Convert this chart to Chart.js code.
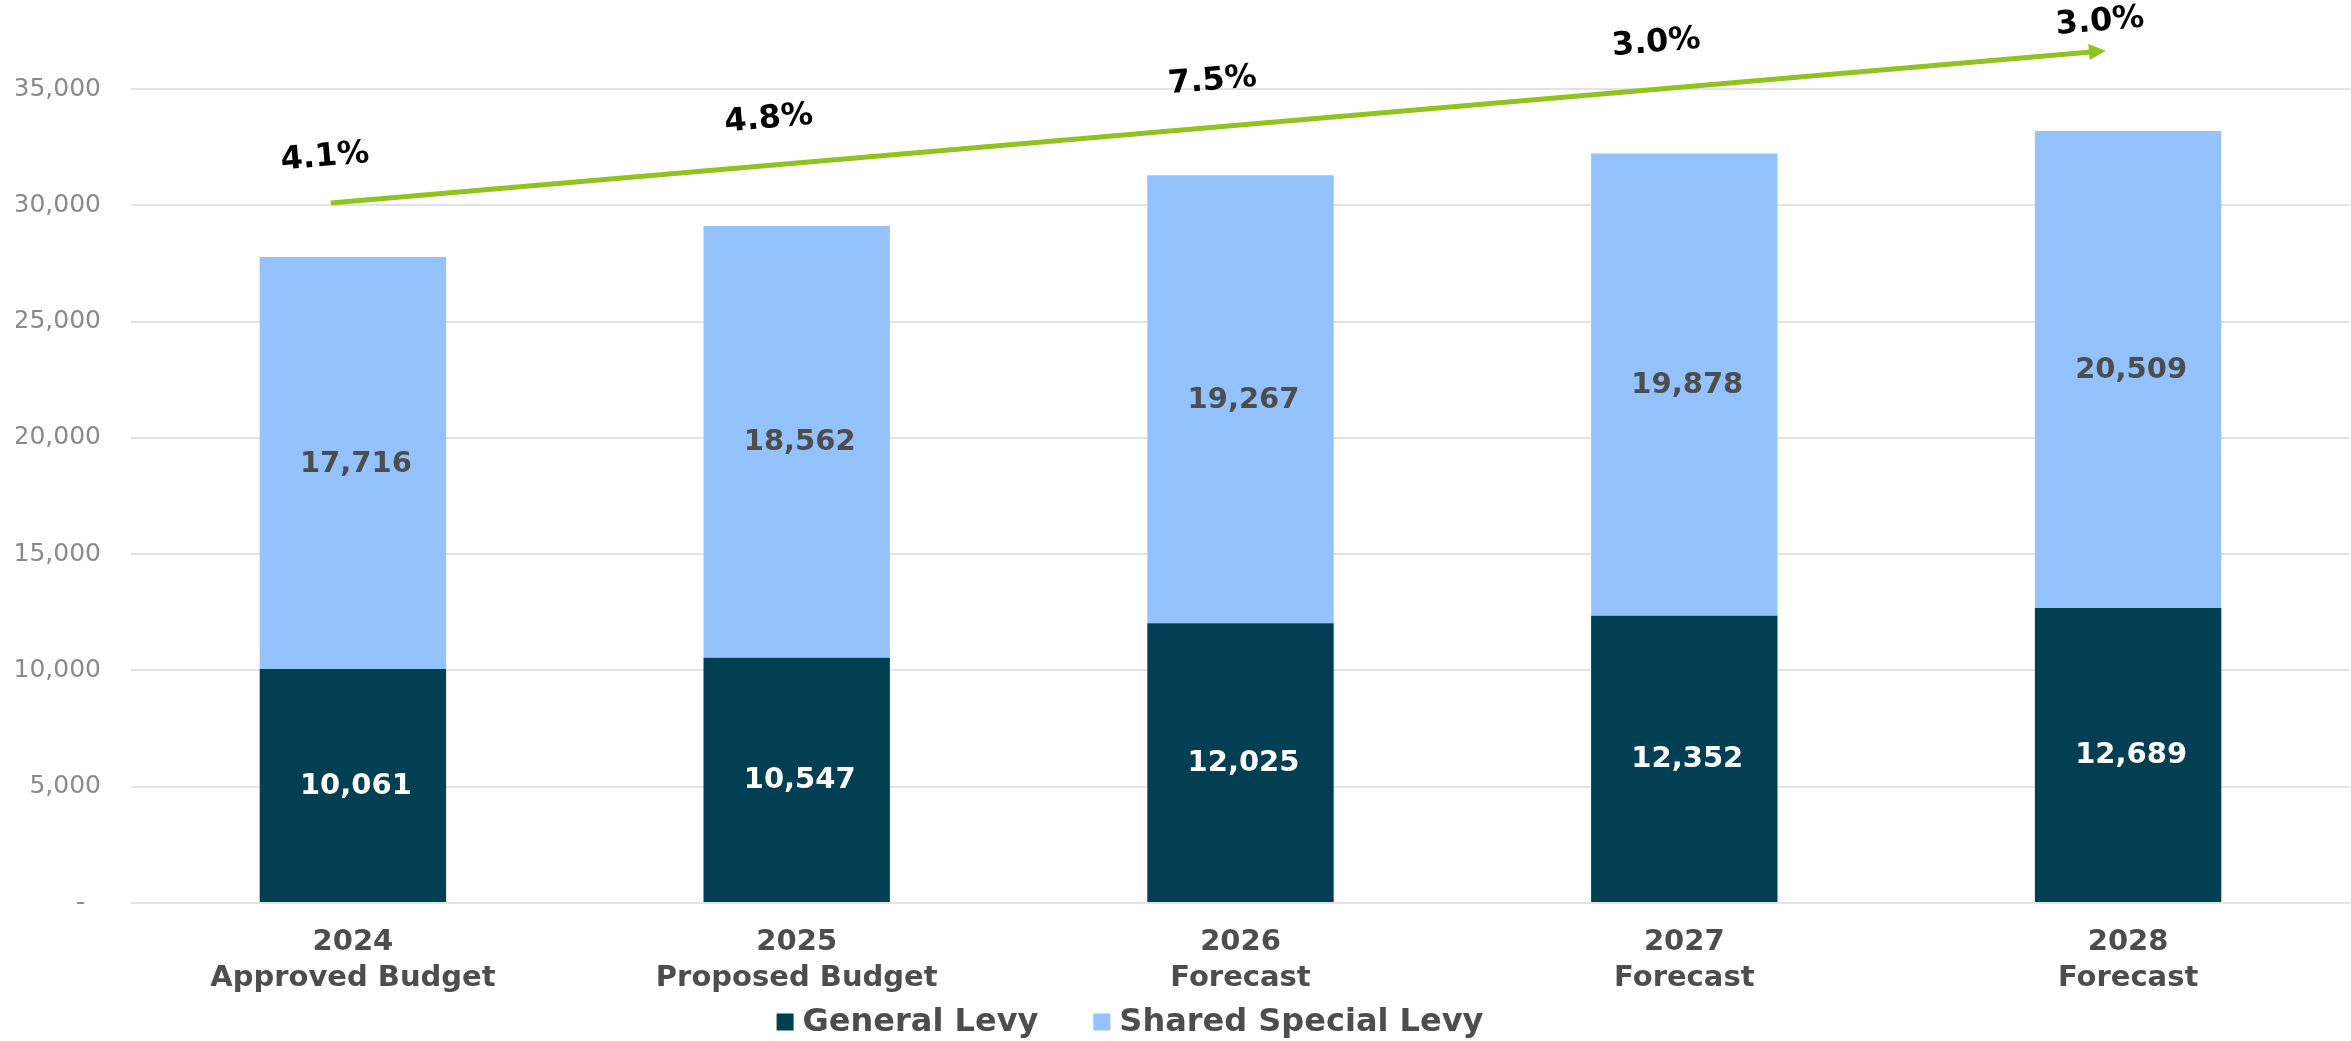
<!DOCTYPE html>
<html>
<head>
<meta charset="utf-8">
<title>Levy Forecast</title>
<script src="https://cdn.jsdelivr.net/npm/chart.js@4.4.1/dist/chart.umd.min.js"></script>
<style>
  html, body { margin: 0; padding: 0; background: #fff; }
  #wrap { width: 2351px; height: 1041px; }
</style>
</head>
<body>
<div id="wrap"><canvas id="levyChart" width="2351" height="1041"></canvas></div>
<script>
// Data
const years = ['2024', '2025', '2026', '2027', '2028'];
const stages = ['Approved Budget', 'Proposed Budget', 'Forecast', 'Forecast', 'Forecast'];
const generalLevy = [10061, 10547, 12025, 12352, 12689];
const sharedSpecialLevy = [17716, 18562, 19267, 19878, 20509];
const growthLabels = ['4.1%', '4.8%', '7.5%', '3.0%', '3.0%'];
// trend arrow, in axis units: [category index, value]
const arrowFrom = [-0.05, 30100];
const arrowTo = [3.95, 36650];

const DARK = '#023f52';
const LIGHT = '#93c2fc';
const TEXT = '#4d4d4d';
const FONT = "'DejaVu Sans', Verdana, sans-serif";

// labels inside the stacked segments
const segmentLabels = {
  id: 'segmentLabels',
  afterDatasetsDraw(chart) {
    const ctx = chart.ctx;
    ctx.save();
    ctx.font = 'bold 29px ' + FONT;
    ctx.textAlign = 'center';
    ctx.textBaseline = 'middle';
    chart.data.datasets.forEach((ds, i) => {
      const meta = chart.getDatasetMeta(i);
      ctx.fillStyle = i === 0 ? '#ffffff' : TEXT;
      meta.data.forEach((bar, j) => {
        const y = (bar.y + bar.base) / 2;
        ctx.fillText(ds.data[j].toLocaleString('en-US'), bar.x + 3, y + 1);
      });
    });
    ctx.restore();
  }
};

// green growth arrow with the percentages above it
const growthArrow = {
  id: 'growthArrow',
  afterDatasetsDraw(chart) {
    const ctx = chart.ctx;
    const xs = chart.scales.x;
    const ys = chart.scales.y;
    const step = xs.getPixelForValue(1) - xs.getPixelForValue(0);
    const x0 = xs.getPixelForValue(0) + arrowFrom[0] * step;
    const x1 = xs.getPixelForValue(0) + arrowTo[0] * step;
    const y0 = ys.getPixelForValue(arrowFrom[1]);
    const y1 = ys.getPixelForValue(arrowTo[1]);
    const ang = Math.atan2(y1 - y0, x1 - x0);

    ctx.save();
    ctx.strokeStyle = '#8fc31f';
    ctx.fillStyle = '#8fc31f';
    ctx.lineWidth = 5;
    ctx.beginPath();
    ctx.moveTo(x0, y0);
    ctx.lineTo(x1 - 12 * Math.cos(ang), y1 - 12 * Math.sin(ang));
    ctx.stroke();
    ctx.translate(x1, y1);
    ctx.rotate(ang);
    ctx.beginPath();
    ctx.moveTo(0, 0);
    ctx.lineTo(-17, -8);
    ctx.lineTo(-17, 8);
    ctx.closePath();
    ctx.fill();
    ctx.restore();

    ctx.save();
    ctx.font = 'bold 32px ' + FONT;
    ctx.fillStyle = '#000';
    ctx.textAlign = 'center';
    ctx.textBaseline = 'middle';
    growthLabels.forEach((txt, i) => {
      const lx = xs.getPixelForValue(i) - 28;
      const ly = Math.max(y0 + (lx - x0) * Math.tan(ang) - 46, 22);
      ctx.save();
      ctx.translate(lx, ly);
      ctx.rotate(ang);
      ctx.fillText(txt, 0, 0);
      ctx.restore();
    });
    ctx.restore();
  }
};

// legend drawn by hand so its spacing matches
const bottomLegend = {
  id: 'bottomLegend',
  afterDraw(chart) {
    const ctx = chart.ctx;
    const box = 17, gap = 9, between = 55, cy = 1022, cx = 1130;
    ctx.save();
    ctx.font = 'bold 32px ' + FONT;
    ctx.textBaseline = 'middle';
    const items = chart.data.datasets.map(ds => ({
      text: ds.label, color: ds.backgroundColor, w: ctx.measureText(ds.label).width
    }));
    const total = items.reduce((s, it) => s + box + gap + it.w, 0) + between * (items.length - 1);
    let x = cx - total / 2;
    items.forEach(it => {
      ctx.fillStyle = it.color;
      ctx.fillRect(x, cy - box / 2, box, box);
      ctx.fillStyle = TEXT;
      ctx.fillText(it.text, x + box + gap, cy + 1);
      x += box + gap + it.w + between;
    });
    ctx.restore();
  }
};

const ctx = document.getElementById('levyChart').getContext('2d');
new Chart(ctx, {
  type: 'bar',
  data: {
    labels: years.map((y, i) => [y, stages[i]]),
    datasets: [
      {
        label: 'General Levy',
        data: generalLevy,
        backgroundColor: DARK,
        barPercentage: 0.42,
        categoryPercentage: 1
      },
      {
        label: 'Shared Special Levy',
        data: sharedSpecialLevy,
        backgroundColor: LIGHT,
        barPercentage: 0.42,
        categoryPercentage: 1
      }
    ]
  },
  options: {
    responsive: false,
    animation: false,
    layout: { padding: { top: 89, left: 16, right: 1, bottom: 0 } },
    scales: {
      x: {
        stacked: true,
        grid: { display: false, drawTicks: false },
        border: { display: false },
        ticks: {
          color: TEXT,
          padding: 21,
          font: { family: FONT, size: 29, weight: 'bold', lineHeight: 1.25 }
        },
        afterFit: s => { s.height = 138; }
      },
      y: {
        stacked: true,
        min: 0,
        max: 35000,
        grid: { color: '#e3e3e3', lineWidth: 2, drawTicks: false },
        border: { display: false },
        ticks: {
          stepSize: 5000,
          color: '#8a8a8a',
          padding: 30,
          font: { family: FONT, size: 25 },
          // accounting style: zero shows as a dash set in from the edge
          callback: v => v === 0 ? '-  ' : v.toLocaleString('en-US')
        },
        afterFit: s => { s.width = 115; }
      }
    },
    plugins: {
      legend: { display: false },
      tooltip: { enabled: false }
    }
  },
  plugins: [segmentLabels, growthArrow, bottomLegend]
});
</script>
</body>
</html>
